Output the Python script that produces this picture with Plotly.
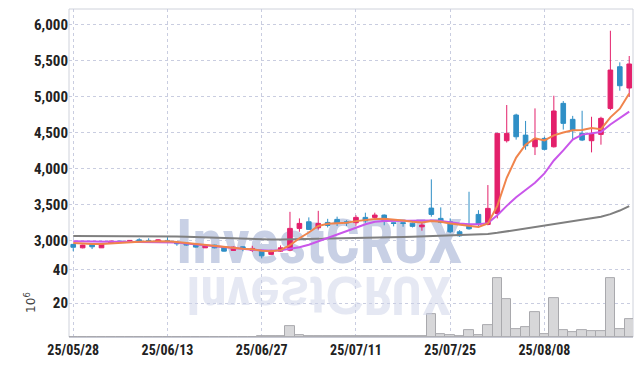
import plotly.graph_objects as go

dates = ["25/05/28","25/05/29","25/05/30","25/06/02","25/06/04","25/06/05","25/06/09","25/06/10","25/06/11","25/06/12",
         "25/06/13","25/06/16","25/06/17","25/06/18","25/06/19","25/06/20","25/06/23","25/06/24","25/06/25","25/06/26",
         "25/06/27","25/06/30","25/07/01","25/07/02","25/07/03","25/07/04","25/07/07","25/07/08","25/07/09","25/07/10",
         "25/07/11","25/07/14","25/07/15","25/07/16","25/07/17","25/07/18","25/07/21","25/07/22","25/07/23","25/07/24",
         "25/07/25","25/07/28","25/07/29","25/07/30","25/07/31","25/08/01","25/08/04","25/08/05","25/08/06","25/08/07",
         "25/08/08","25/08/11","25/08/12","25/08/13","25/08/14","25/08/18","25/08/19","25/08/20","25/08/21","25/08/22"]

open_ = [2945,2897,2944,2897,2958,2990,2972,3008,3000,2980,
         3000,2972,2958,2935,2897,2935,2911,2861,2911,2861,
         2861,2806,2851,2865,3167,3259,3175,3250,3292,3259,
         3245,3320,3320,3352,3245,3245,3240,3189,3449,3306,
         3259,3120,3208,3361,3222,3375,4385,4742,4463,4301,
         4417,4301,4904,4682,4487,4385,4473,4834,5413,5117]
high = [2950,2940,2950,2950,2995,2995,3005,3030,3030,3015,
        3045,2975,2960,2940,2925,2940,2915,2915,2915,2925,
        2870,2870,2930,3397,3306,3320,3411,3300,3330,3280,
        3350,3385,3385,3360,3250,3250,3250,3245,3848,3459,
        3306,3143,3676,3420,3769,4495,4881,4760,4660,4834,
        4440,5010,4936,4730,4801,4718,4718,5913,5474,5562]
low = [2850,2890,2880,2895,2955,2965,2970,2975,2975,2975,
       2975,2925,2925,2900,2895,2890,2845,2855,2850,2840,
       2750,2800,2840,2850,3120,3145,3150,3180,3200,3200,
       3205,3245,3300,3210,3195,3190,3180,3135,3330,3236,
       3100,3050,3150,3200,3210,3306,4360,4400,4260,4186,
       4250,4290,4540,4400,4380,4223,4330,4810,5080,4996]
close = [2905,2935,2911,2944,2990,2972,3000,2980,2980,3008,
         2980,2953,2935,2907,2921,2897,2851,2907,2889,2889,
         2786,2861,2897,3167,3236,3153,3236,3208,3236,3245,
         3320,3272,3352,3272,3236,3236,3195,3213,3361,3250,
         3120,3064,3161,3222,3445,4487,4487,4440,4315,4408,
         4265,4798,4626,4524,4394,4477,4696,5367,5149,5451]
volume = [0.2,0.2,0.2,0.2,0.2,0.2,0.2,0.2,0.2,0.2,
          0.2,0.2,0.2,0.2,0.2,0.2,0.2,0.2,0.2,0.2,
          0.3,0.3,0.3,6.6,1.0,0.3,0.6,0.3,0.3,0.3,
          0.3,0.3,0.3,0.3,0.3,0.3,0.3,0.3,13.5,1.5,
          1.0,0.4,4.3,1.0,7.0,34.7,22.3,4.9,5.7,14.5,
          1.9,22.9,4.3,3.1,4.3,3.7,3.7,34.7,4.9,10.6]
ma_short = [2965,2955,2950,2950,2960,2965,2975,2982,2985,2988,
            2988,2978,2965,2950,2935,2925,2905,2893,2885,2878,
            2856,2848,2865,2935,3030,3110,3200,3230,3240,3245,
            3268,3288,3298,3300,3292,3275,3258,3250,3268,3260,
            3235,3220,3195,3188,3236,3480,3870,4150,4330,4420,
            4390,4460,4500,4530,4535,4560,4545,4710,4830,5040]
ma_mid = [2990,2985,2982,2980,2980,2980,2980,2980,2980,2980,
          2980,2970,2958,2945,2930,2915,2900,2888,2878,2870,
          2862,2855,2862,2880,2905,2940,2985,3030,3075,3125,
          3175,3225,3260,3268,3270,3268,3265,3268,3278,3268,
          3248,3236,3226,3225,3240,3350,3480,3600,3700,3800,
          3930,4110,4250,4400,4470,4485,4505,4610,4700,4790]
ma_long = [3062,3062,3062,3061,3061,3061,3060,3060,3060,3060,
           3059,3055,3050,3045,3040,3035,3030,3025,3020,3016,
           3013,3012,3012,3014,3016,3018,3020,3022,3025,3028,
           3031,3034,3037,3040,3043,3046,3050,3054,3060,3065,
           3070,3074,3078,3082,3090,3105,3125,3145,3162,3180,
           3200,3222,3245,3265,3285,3305,3330,3365,3415,3477]
tick_idx = [0, 10, 20, 30, 40, 50]
price_ticks = [3000, 3500, 4000, 4500, 5000, 5500, 6000]
volume_ticks = [20, 40]
watermark = "InvestCRUX"
watermark_reflected = "XU\u042f\u0186t\u01a8\u0258vnI"   # mirrored spelling, shown rotated 180°

x = list(range(len(dates)))
RED = "#e3206b"
BLUE = "#2f8fc6"
GRID = "#c9cde0"
FAM = "Roboto Condensed, Roboto, sans-serif"
TICKFONT = dict(family=FAM, size=14, color="#222", weight="bold")
PRICE_RANGE = [2615, 6215]

fig = go.Figure()

# watermark on the base price axis (drawn beneath the overlaid candle axis)
fig.add_trace(go.Scatter(x=[26.1], y=[2895], mode="text", text=[watermark],
                         textfont=dict(family=FAM, size=61, color="#c8d0e5", weight="bold"),
                         cliponaxis=False, hoverinfo="skip", showlegend=False, xaxis="x", yaxis="y"))

fig.add_trace(go.Candlestick(x=x, open=open_, high=high, low=low, close=close,
                             increasing=dict(line=dict(color=RED, width=1), fillcolor=RED),
                             decreasing=dict(line=dict(color=BLUE, width=1), fillcolor=BLUE),
                             showlegend=False, xaxis="x", yaxis="y3"))
fig.add_trace(go.Scatter(x=x, y=ma_long, mode="lines", line=dict(color="#7f7f7f", width=2), showlegend=False, yaxis="y3"))
fig.add_trace(go.Scatter(x=x, y=ma_mid, mode="lines", line=dict(color="#c956ea", width=2), showlegend=False, yaxis="y3"))
fig.add_trace(go.Scatter(x=x, y=ma_short, mode="lines", line=dict(color="#f0844c", width=2), showlegend=False, yaxis="y3"))

fig.add_trace(go.Bar(x=x, y=volume, marker=dict(color="#d7d7d9", line=dict(color="#a9a9ad", width=1)),
                     showlegend=False, yaxis="y2"))

fig.update_layout(
    width=643, height=366,
    margin=dict(l=69, r=10, t=9, b=29, autoexpand=False),
    paper_bgcolor="white", plot_bgcolor="white",
    bargap=0,
    annotations=[dict(x=26.1, y=25.2, xref="x", yref="y2", text=watermark_reflected, textangle=180,
                      showarrow=False, font=dict(family=FAM, size=53, color="rgba(203,210,231,0.5)", weight="bold"))],
    xaxis=dict(range=[-0.45, 59.4], tickvals=tick_idx, ticktext=[dates[i] for i in tick_idx],
               showgrid=True, gridcolor=GRID, griddash="dot", gridwidth=1, automargin=False,
               rangeslider=dict(visible=False), anchor="y2", zeroline=False,
               showline=True, linecolor="#c8cad4", tickfont=TICKFONT, ticks=""),
    yaxis=dict(domain=[0.21, 1], range=PRICE_RANGE, tickvals=price_ticks, tickformat=",",
               showgrid=True, gridcolor=GRID, griddash="dot", zeroline=False, automargin=False,
               tickfont=dict(TICKFONT, size=15), ticks=""),
    yaxis3=dict(overlaying="y", range=PRICE_RANGE, visible=False, showgrid=False, zeroline=False),
    yaxis2=dict(domain=[0, 0.21], range=[0, 40.8], tickvals=volume_ticks, automargin=False,
                showgrid=True, gridcolor=GRID, griddash="dot", zeroline=False,
                tickfont=dict(TICKFONT, size=15), ticks="",
                title=dict(text="10<sup>6</sup>", font=dict(family="DejaVu Sans", size=12, color="#444"), standoff=14)),
    shapes=[dict(type="rect", xref="paper", yref="paper", x0=0, x1=1, y0=0, y1=1,
                 line=dict(color="#cfd2db", width=1), layer="below")],
)

fig.write_html("out.html", config={"displayModeBar": False},
               post_script="document.body.style.margin='0px';")
